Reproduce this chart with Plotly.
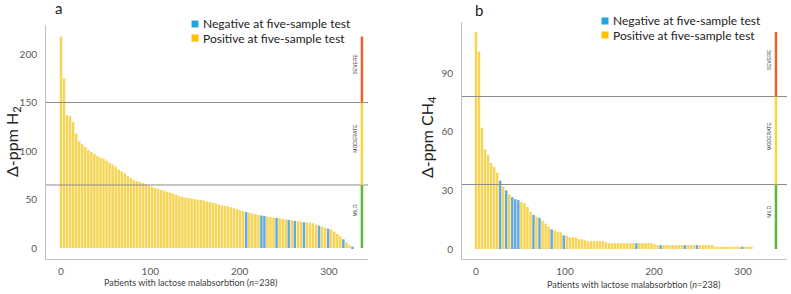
import plotly.graph_objects as go

# ---------------- data ----------------
# Panel a: delta-ppm H2, patients sorted by decreasing value
h2_values = [218, 175, 137, 136, 130, 118, 110, 107, 104, 101,
             99, 97, 95, 93, 92, 90, 88, 86, 84, 81,
             79, 77, 74, 72, 70, 69, 68, 67, 66, 64.5,
             63, 62, 61, 60, 59, 58, 57, 56, 55, 53.5,
             52.5, 52, 51.5, 51, 50.5, 50, 49.5, 49, 48, 47.5,
             46.5, 46, 45, 44, 43.5, 43, 42, 41, 40, 39,
             38, 37, 36.5, 35.5, 35, 34, 33.5, 33, 32.5, 32,
             31.5, 31, 30.5, 30, 29.5, 29, 28.5, 28, 27.5, 27,
             26.5, 26.5, 26, 25.5, 24, 23, 22, 21, 20, 19,
             17, 14.5, 12, 9, 6, 3, 1.5]
h2_negative_idx = [61, 66, 67, 71, 75, 77, 80, 85, 88, 93, 96]
h2_thresholds = [0, 65, 150, 218]

# Panel b: delta-ppm CH4
ch4_values = [111, 101, 62, 51, 48, 44, 42, 39, 35, 32,
              30, 28, 26.5, 25.5, 25, 24, 23.5, 21.5, 19, 17.5,
              16.5, 16, 14.5, 13, 11.5, 10, 9.5, 8.8, 8.5, 7,
              6.8, 6, 6, 6, 5, 5, 4.5, 4, 4, 4,
              4, 4, 4, 3.5, 3, 3, 3, 3, 3, 3,
              3, 3, 3, 3, 3, 3, 3, 3, 3, 2.5,
              2, 2, 2, 2, 2, 2, 2, 2, 2, 2,
              2, 2, 2, 2, 2, 2, 2, 2, 2, 1.2,
              1.2, 1.2, 1.2, 1.2, 1.2, 1.2, 1.2, 1.2, 1.2, 1.2,
              1.2, 1.2]
ch4_negative_idx = [8, 10, 12, 13, 14, 19, 21, 25, 29, 53, 61, 69, 73, 88]
ch4_thresholds = [0, 33, 78, 111]

severity_labels = ["MILD", "MODERATE", "SEVERE"]
severity_colors = ["#5DB83A", "#FFD43B", "#F0602C"]
x_ticks = [0, 100, 200, 300]
h2_ticks = [0, 50, 100, 150, 200]
ch4_ticks = [0, 30, 60, 90]
legend_labels = ["Negative at five-sample test", "Positive at five-sample test"]
x_title = "Patients with lactose malabsorbtion (<i>n</i>=238)"

# ---------------- styling ----------------
W, H = 791, 294
BAR_STEP = 3.4
YELLOW = "#F6D556"
BLUE = "#66AADA"
FONT = "Lato"
AXIS_COLOR = "#BFBFBF"
TEXT_COLOR = "#404040"

fig = go.Figure()


def add_panel(values, neg_idx, xa, ya):
    xs = [i * BAR_STEP for i in range(len(values))]
    pos_x = [x for i, x in enumerate(xs) if i not in neg_idx]
    pos_y = [v for i, v in enumerate(values) if i not in neg_idx]
    neg_x = [x for i, x in enumerate(xs) if i in neg_idx]
    neg_y = [v for i, v in enumerate(values) if i in neg_idx]
    fig.add_trace(go.Bar(x=pos_x, y=pos_y, width=BAR_STEP * 0.82,
                         marker=dict(color=YELLOW, line=dict(width=0)),
                         xaxis=xa, yaxis=ya, showlegend=False, hoverinfo="x+y"))
    fig.add_trace(go.Bar(x=neg_x, y=neg_y, width=BAR_STEP * 0.82,
                         marker=dict(color=BLUE, line=dict(width=0)),
                         xaxis=xa, yaxis=ya, showlegend=False, hoverinfo="x+y"))


add_panel(h2_values, h2_negative_idx, "x", "y")
add_panel(ch4_values, ch4_negative_idx, "x2", "y2")

SEV_X = 337
shapes = []
annotations = []


def panel_decor(thr, xref, yref, ymid_shift):
    # threshold lines (at the moderate/severe limits)
    for t in thr[1:3]:
        shapes.append(dict(type="line", xref=xref + " domain", yref=yref,
                           x0=0, x1=1, y0=t, y1=t,
                           line=dict(color="#8C8C8C", width=1), layer="above"))
    # severity bar
    for k in range(3):
        shapes.append(dict(type="line", xref=xref, yref=yref,
                           x0=SEV_X, x1=SEV_X, y0=thr[k], y1=thr[k + 1],
                           line=dict(color=severity_colors[k], width=2.5), layer="above"))
        annotations.append(dict(xref=xref, yref=yref, x=SEV_X, y=(thr[k] + thr[k + 1]) / 2,
                                text=severity_labels[k], textangle=-90, showarrow=False,
                                xshift=-7, yshift=ymid_shift,
                                font=dict(family="Liberation Sans", size=5, color="#333333")))


panel_decor(h2_thresholds, "x", "y", 6)
panel_decor(ch4_thresholds, "x2", "y2", 5)


def px(xp):
    return xp / W


def py(yp):
    return 1 - yp / H


# legends (swatches + text)
for (sx, sy, tx) in [(195, 24, 201), (605, 21, 611)]:
    for k, (lab, col) in enumerate(zip(legend_labels, ["#1EA7E1", "#FFC000"])):
        yy = sy + 14 * k
        shapes.append(dict(type="rect", xref="paper", yref="paper",
                           x0=px(sx - 3.5), x1=px(sx + 3.5), y0=py(yy - 3.5), y1=py(yy + 3.5),
                           fillcolor=col, line=dict(width=0)))
        annotations.append(dict(xref="paper", yref="paper", x=px(tx), y=py(yy),
                                xanchor="left", yanchor="middle", text=lab, showarrow=False,
                                font=dict(family=FONT, size=12, color="#222222")))

# panel letters
annotations.append(dict(xref="paper", yref="paper", x=px(58), y=py(8), text="a",
                        xanchor="center", yanchor="middle",
                        showarrow=False, font=dict(family=FONT, size=15, color="#222222")))
annotations.append(dict(xref="paper", yref="paper", x=px(479), y=py(10), text="b",
                        xanchor="center", yanchor="middle",
                        showarrow=False, font=dict(family=FONT, size=15, color="#222222")))
# y titles
annotations.append(dict(xref="paper", yref="paper", x=px(12), y=py(142),
                        xanchor="center", yanchor="middle",
                        text="Δ-ppm H<sub>2</sub>", textangle=-90, showarrow=False,
                        font=dict(family=FONT, size=16, color="#222222")))
annotations.append(dict(xref="paper", yref="paper", x=px(427), y=py(137),
                        xanchor="center", yanchor="middle",
                        text="Δ-ppm CH<sub>4</sub>", textangle=-90, showarrow=False,
                        font=dict(family=FONT, size=16, color="#222222")))
# x titles
annotations.append(dict(xref="paper", yref="paper", x=px(190), y=py(282), text=x_title,
                        xanchor="center", yanchor="middle",
                        showarrow=False, font=dict(family=FONT, size=9, color=TEXT_COLOR)))
annotations.append(dict(xref="paper", yref="paper", x=px(633), y=py(284), text=x_title,
                        xanchor="center", yanchor="middle",
                        showarrow=False, font=dict(family=FONT, size=9, color=TEXT_COLOR)))

tickfont = dict(family=FONT, size=10, color="#595959")
common_x = dict(showgrid=False, zeroline=False, showline=True, linecolor=AXIS_COLOR,
                linewidth=1, tickvals=x_ticks, ticks="", tickfont=tickfont,
                automargin=False, ticklabelstandoff=3)
common_y = dict(showgrid=False, zeroline=False, showline=True, linecolor=AXIS_COLOR,
                linewidth=1, ticks="", tickfont=tickfont, ticklabelstandoff=6,
                automargin=False)

fig.update_layout(
    width=W, height=H,
    margin=dict(l=0, r=0, t=0, b=0, pad=0, autoexpand=False),
    paper_bgcolor="white", plot_bgcolor="white",
    barmode="overlay", showlegend=False,
    xaxis=dict(domain=[px(46), px(368)], range=[-16.8, 343.8], anchor="y", **common_x),
    yaxis=dict(domain=[py(259), py(25)], range=[-11.3, 229.9], tickvals=h2_ticks,
               anchor="x", **common_y),
    xaxis2=dict(domain=[px(462), px(787)], range=[-15.7, 349.4], anchor="y2", **common_x),
    yaxis2=dict(domain=[py(259), py(22)], range=[-5.1, 116.1], tickvals=ch4_ticks,
                anchor="x2", **common_y),
    shapes=shapes, annotations=annotations,
)

fig.write_html("out.html", config={"displayModeBar": False},
               post_script="document.body.style.margin='0px';document.body.style.overflow='hidden';")
